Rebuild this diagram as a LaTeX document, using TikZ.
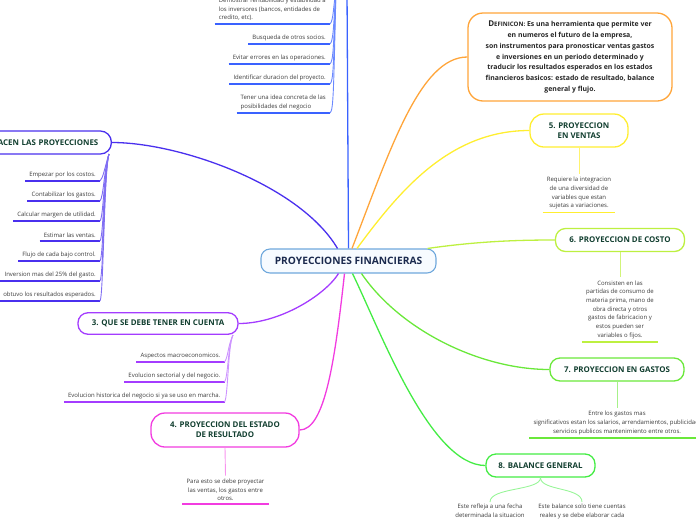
\documentclass[tikz,border=0pt]{standalone}
\usepackage{fontspec}
\setmainfont{Open Sans}
\usetikzlibrary{calc}
\definecolor{cBlue}{HTML}{3A62FF}
\definecolor{cIndigo}{HTML}{4A30EE}
\definecolor{cPurple}{HTML}{A43CFF}
\definecolor{cMagenta}{HTML}{F23CE0}
\definecolor{cOrange}{HTML}{FFA53A}
\definecolor{cYellow}{HTML}{FFEE30}
\definecolor{cLime}{HTML}{BDF040}
\definecolor{cGreen}{HTML}{6AE83A}
\definecolor{cGreenB}{HTML}{44EC44}
\definecolor{tGreen}{HTML}{123F30}
\definecolor{tNavy}{HTML}{1B2A4E}
\definecolor{tSub}{HTML}{3A3A3A}
\definecolor{cCenter}{HTML}{6FA8DC}
\definecolor{fCenter}{HTML}{F7FBFF}
\tikzset{
 topic/.style={draw=#1, line width=1.3pt, rounded corners=10pt, fill=white,
   font=\bfseries\fontsize{7.9}{10}\selectfont, text=tGreen, align=center, inner sep=0pt},
 conn/.style={draw=#1, line width=1.3pt},
 subconn/.style={draw=#1, line width=0.9pt},
 ul/.style={draw=#1, line width=1.3pt},
 subL/.style={font=\fontsize{6}{8.6}\selectfont, text=tSub, align=left,
   inner xsep=4pt, inner ysep=3pt, anchor=south east},
 subC/.style={font=\fontsize{6}{8.7}\selectfont, text=tSub, align=center,
   inner xsep=4pt, inner ysep=3pt, anchor=south},
}
\begin{document}
\begin{tikzpicture}[x=1pt,y=-1pt]
\useasboundingbox (0,0) rectangle (696,520);

% central node
\node[draw=cCenter, line width=1.1pt, fill=fCenter, rounded corners=9pt,
  minimum width=175pt, minimum height=24pt, inner sep=0pt,
  font=\bfseries\fontsize{10.2}{12}\selectfont, text=tNavy] (c) at (348.5,261) {PROYECCIONES FINANCIERAS};

% topic nodes
\node[topic=cIndigo, anchor=east, text width=150pt, align=right, inner xsep=13pt,
  minimum height=23pt, rounded corners=11pt] (b2) at (112,142.5) {ACEN LAS PROYECCIONES};
\node[topic=cPurple, minimum width=160pt, minimum height=21.5pt] (b3) at (158,323.5) {3. QUE SE DEBE TENER EN CUENTA};
\node[topic=cMagenta, minimum width=148pt, minimum height=34pt, rounded corners=14pt] (b4) at (225,430) {4. PROYECCION DEL ESTADO\\DE RESULTADO};
\node[topic=cOrange, minimum width=204pt, minimum height=88pt, rounded corners=15pt,
  font=\bfseries\fontsize{6.9}{10.8}\selectfont, text=black!85] (def) at (570,57)
  {{\fontsize{8}{10.8}\selectfont D}{\fontsize{6.1}{10.8}\selectfont EFINICON:} Es una herramienta que permite ver\\
   en numeros el futuro de la empresa,\\
   son instrumentos para pronosticar ventas gastos\\
   e inversiones en un periodo determinado y\\
   traducir los resultados esperados en los estados\\
   financieros basicos: estado de resultado, balance\\
   general y flujo.};
\node[topic=cYellow, minimum width=98pt, minimum height=33pt, rounded corners=14pt] (b5) at (579,130.5) {5. PROYECCION\\EN VENTAS};
\node[topic=cLime, minimum width=129pt, minimum height=23pt] (b6) at (620,240) {6. PROYECCION DE COSTO};
\node[topic=cGreen, minimum width=134pt, minimum height=23pt] (b7) at (617,369.5) {7. PROYECCION EN GASTOS};
\node[topic=cGreenB, minimum width=109pt, minimum height=23pt] (b8) at (540.5,465.5) {8. BALANCE GENERAL};

% main connectors
\coordinate (b1) at (347,-10);
\draw[conn=cBlue] (c.north) -- (b1);
\draw[conn=cIndigo] ($(c.north)+(-11,0)$) .. controls (300,185) and (180,142.5) .. (b2.east);
\draw[conn=cOrange] ($(c.north)+(3.5,0)$) .. controls (390,150) and (420,57) .. (def.west);
\draw[conn=cYellow] ($(c.north)+(8.5,0)$) .. controls (400,190) and (450,130.5) .. (b5.west);
\draw[conn=cLime] ($(c.north east)+(-9,0)$) .. controls (480,241) and (520,240) .. (b6.west);
\draw[conn=cPurple] ($(c.south)+(-10,0)$) .. controls (325,295) and (280,323.5) .. (b3.east);
\draw[conn=cMagenta] ($(c.south)+(-4,0)$) .. controls (335,360) and (325,430) .. (b4.east);
\draw[conn=cGreenB] ($(c.south)+(4,0)$) .. controls (380,330) and (430,465.5) .. (b8.west);
\draw[conn=cGreen] ($(c.south)+(13,0)$) .. controls (400,330) and (480,369.5) .. (b7.west);

% branch 1 sub-items (parent above the page)
\coordinate (b1s) at (336,-10);
\node[subL] (s11) at (330,24) {Demostrar rentabilidad y estabilidad a\\los inversores (bancos, entidades de\\credito, etc).};
\node[subL] (s12) at (330,44) {Busqueda de otros socios.};
\node[subL] (s13) at (330,64) {Evitar errores en las operaciones.};
\node[subL] (s14) at (330,84) {Identificar duracion del proyecto.};
\node[subL] (s15) at (330,113) {Tener una idea concreta de las\\posibilidades del negocio};
\foreach \n/\y in {s11/24,s12/44,s13/64,s14/84,s15/113}{
  \draw[ul=cBlue] (\n.south west) -- (\n.south east);
  \draw[subconn=cBlue!75] (b1s) .. controls (333.5,\y-20) and (333.5,\y-3) .. (\n.south east);
}

% branch 2 sub-items
\coordinate (b2s) at (109,154);
\node[subL] (s21) at (100,181) {Empezar por los costos.};
\node[subL] (s22) at (100,201) {Contabilizar los gastos.};
\node[subL] (s23) at (100,221) {Calcular margen de utilidad.};
\node[subL] (s24) at (100,241) {Estimar las ventas.};
\node[subL] (s25) at (100,261) {Flujo de cada bajo control.};
\node[subL] (s26) at (100,281) {Inversion mas del 25\% del gasto.};
\node[subL] (s27) at (100,301) {obtuvo los resultados esperados.};
\foreach \n/\y in {s21/181,s22/201,s23/221,s24/241,s25/261,s26/281,s27/301}{
  \draw[ul=cIndigo] (\n.south west) -- (\n.south east);
  \draw[subconn=cIndigo!70] (b2s) .. controls (104,170) and (103.5,\y-4) .. (\n.south east);
}

% branch 3 sub-items
\coordinate (b3s) at (233,335);
\node[subL] (s31) at (224.5,362) {Aspectos macroeconomicos.};
\node[subL] (s32) at (224.5,382) {Evolucion sectorial y del negocio.};
\node[subL] (s33) at (224.5,402) {Evolucion historica del negocio si ya se uso en marcha.};
\foreach \n/\y in {s31/362,s32/382,s33/402}{
  \draw[ul=cPurple] (\n.south west) -- (\n.south east);
  \draw[subconn=cPurple!55] (b3s) .. controls (228,345) and (228,\y-4) .. (\n.south east);
}

% branch 4 sub-item
\node[subC] (s41) at (225.5,504) {Para esto se debe proyectar\\las ventas, los gastos entre\\otros.};
\draw[ul=cMagenta] (s41.south west) -- (s41.south east);
\draw[subconn=cMagenta!55] (b4.south) -- (s41.north);

% branch 5 sub-item
\node[subC] (s51) at (579,212.5) {Requiere la integracion\\de una diversidad de\\variables que estan\\sujetas a variaciones.};
\draw[ul=cYellow] (s51.south west) -- (s51.south east);
\draw[subconn=cYellow!70] (b5.south) -- (s51.north);

% branch 6 sub-item
\node[subC] (s61) at (620,342) {Consisten en las\\partidas de consumo de\\materia prima, mano de\\obra directa y otros\\gastos de fabricacion y\\estos pueden ser\\variables o fijos.};
\draw[ul=cLime] (s61.south west) -- (s61.south east);
\draw[subconn=cLime!70] (b6.south) -- (s61.north);

% branch 7 sub-item
\node[subC] (s71) at (617,438) {Entre los gastos mas\\significativos estan los salarios, arrendamientos, publicidad,\\servicios publicos mantenimiento entre otros.};
\draw[ul=cGreen] (s71.south west) -- (s71.south east);
\draw[subconn=cGreen!60] (b7.south) -- (s71.north);

% branch 8 sub-items
\node[subC, anchor=north, inner ysep=2pt] (s81) at (490,502) {Este refleja a una fecha\\determinada la situacion};
\node[subC, anchor=north, inner ysep=2pt] (s82) at (582,502) {Este balance solo tiene cuentas\\reales y se debe elaborar cada};
\draw[subconn=cGreenB!55] (b8.south) .. controls (540.5,491) and (490,487) .. (s81.north);
\draw[subconn=cGreenB!55] (b8.south) .. controls (540.5,491) and (582,487) .. (s82.north);
\end{tikzpicture}
\end{document}
